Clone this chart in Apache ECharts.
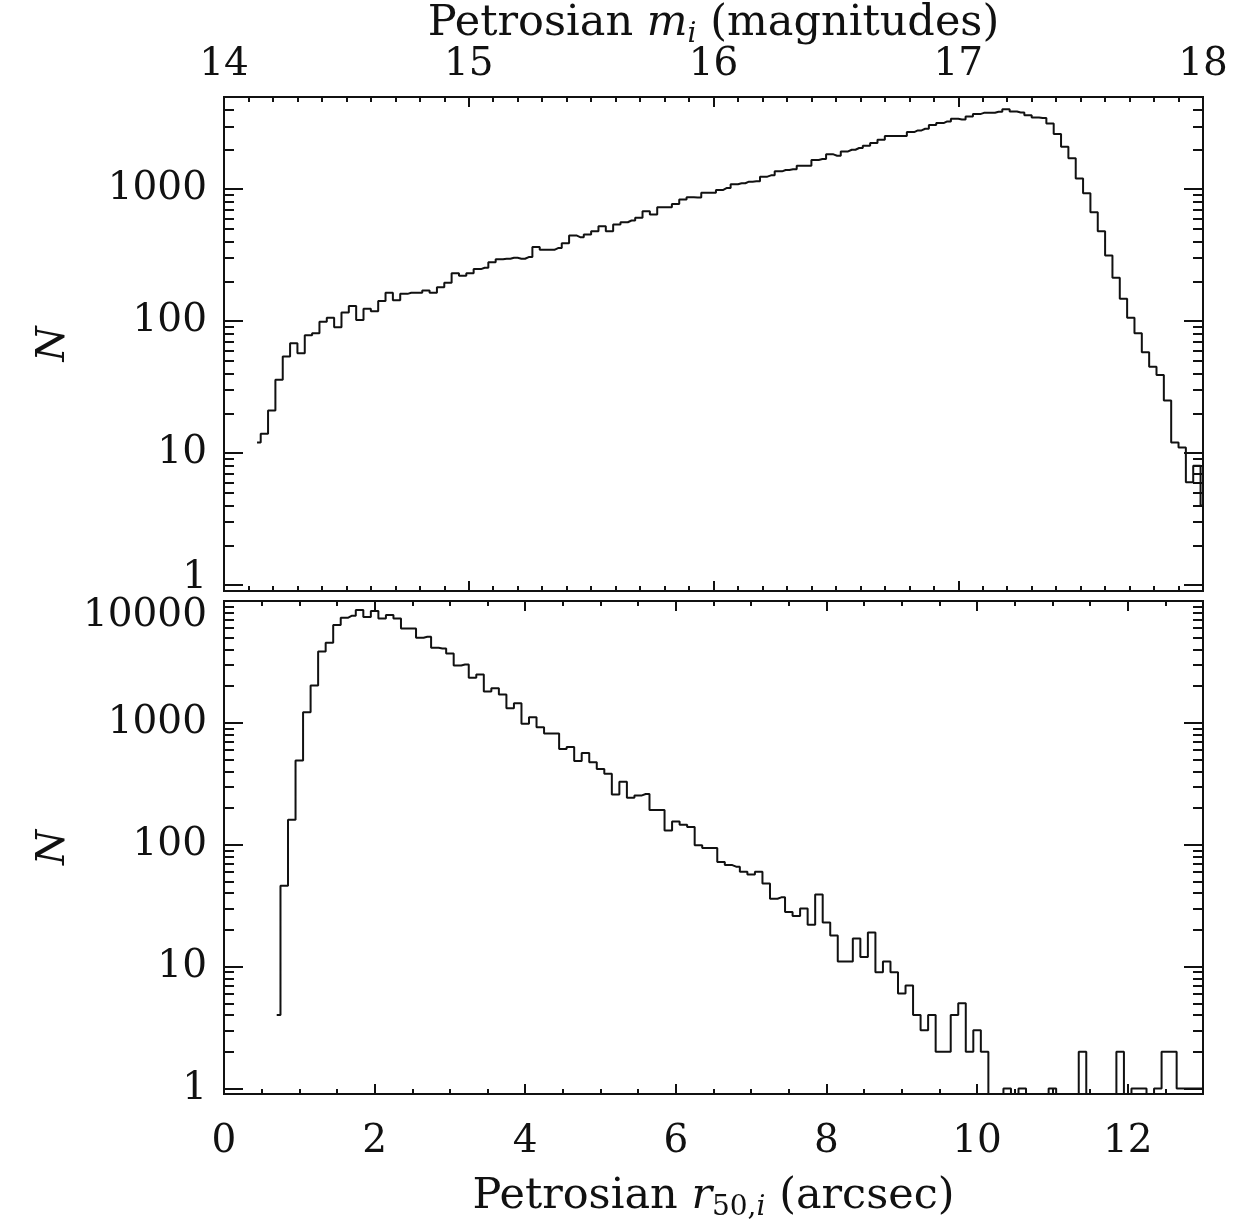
<!DOCTYPE html>
<html>
<head>
<meta charset="utf-8">
<script src="https://cdn.jsdelivr.net/npm/echarts@6/dist/echarts.min.js"></script>
<style>html,body{margin:0;padding:0;background:#fff}#chart{width:1233px;height:1226px}</style>
</head>
<body>
<div id="chart"></div>
<script>
// ---- Top panel: histogram of Petrosian m_i (bin centres start + k*width) ----
const magBinStart = 14.135;
const magBinWidth = 0.03;
const magCounts = [
  12, 14, 21, 36, 54, 68, 57, 78, 81, 99,
  106, 90, 116, 130, 102, 124, 119, 142, 164, 144,
  161, 164, 164, 171, 164, 181, 195, 231, 221, 231,
  248, 254, 280, 294, 297, 302, 297, 306, 364, 347,
  347, 358, 390, 446, 433, 454, 481, 524, 481, 540,
  562, 579, 607, 681, 643, 730, 730, 773, 834, 868,
  864, 942, 942, 988, 1023, 1090, 1109, 1141, 1148, 1245,
  1274, 1366, 1399, 1415, 1509, 1509, 1665, 1694, 1837, 1795,
  1935, 1992, 2052, 2137, 2240, 2373, 2531, 2531, 2531, 2712,
  2792, 2873, 3064, 3173, 3267, 3422, 3380, 3556, 3710, 3793,
  3793, 3862, 4045, 3881, 3817, 3642, 3500, 3460, 3148, 2618,
  2098, 1713, 1203, 931, 669, 481, 315, 213, 148, 106,
  81, 58, 45, 39, 25, 12, 11, 6, 8, 4
];

// ---- Bottom panel: histogram of Petrosian r50,i ----
const sizeBinStart = 0.7;
const sizeBinWidth = 0.1;
const sizeCounts = [
  4, 46, 160, 490, 1222, 2024, 3855, 4540, 6340, 7290,
  7570, 8420, 7380, 8260, 7190, 7660, 7190, 5960, 5960, 4990,
  5090, 4130, 4070, 3710, 2958, 3013, 2344, 2494, 1807, 1925,
  1709, 1318, 1449, 981, 1112, 920, 817, 817, 611, 635,
  487, 567, 475, 419, 383, 258, 329, 243, 254, 261,
  193, 193, 131, 155, 146, 140, 99, 94, 94, 72,
  68, 66, 60, 57, 60, 48, 36, 37, 28, 26,
  30, 22, 39, 23, 18, 11, 11, 17, 12, 19,
  9, 11, 9, 6, 7, 4, 3, 4, 2, 2,
  4, 5, 2, 3, 2, 0, 0, 1, 0, 1,
  0, 0, 0, 1, 0, 0, 0, 2, 0, 0,
  0, 0, 2, 0, 1, 1, 0, 1, 2, 2,
  1, 1, 1, 1
];

// ---- Tick labels ----
const magTickLabels = [14, 15, 16, 17, 18];
const sizeTickLabels = [0, 2, 4, 6, 8, 10, 12];
const countTicksTop = [1, 10, 100, 1000];
const countTicksBottom = [1, 10, 100, 1000, 10000];

// empty bins sit below the log axis floor and are clipped
const EMPTY_BIN_LEVEL = 0.5;

function histData(start, width, counts) {
  return counts.map((v, i) => [+(start + i * width).toFixed(4), v > 0 ? v : EMPTY_BIN_LEVEL]);
}
function minorLinear(min, max, step, majorStep) {
  const out = [];
  const n = Math.round((max - min) / step);
  for (let i = 1; i < n; i++) {
    const v = +(min + i * step).toFixed(4);
    if (Math.abs(v / majorStep - Math.round(v / majorStep)) > 1e-6) out.push(v);
  }
  return out;
}
function minorLog(maxV) {
  const out = [];
  for (let d = 1; d < maxV; d *= 10) {
    for (let m = 2; m <= 9; m++) { if (m * d < maxV) out.push(m * d); }
  }
  return out;
}

const FONT = 'DejaVu Serif';
const INK = '#111';
const lineStyle = { color: INK, width: 2 };

function xAxis(grid, pos, min, max, ticks, len, labels, extra) {
  return Object.assign({
    type: 'value', gridIndex: grid, position: pos, min: min, max: max,
    axisLine: { show: true, onZero: false, lineStyle: lineStyle },
    axisTick: { show: true, inside: true, length: len, customValues: ticks, lineStyle: lineStyle },
    axisLabel: labels ? {
      show: true, customValues: labels, margin: pos === 'top' ? 13 : 28,
      fontFamily: FONT, fontSize: 39, color: INK,
      formatter: v => String(v)
    } : { show: false, customValues: ticks },
    splitLine: { show: false }, minorTick: { show: false }
  }, extra || {});
}
function yAxis(grid, pos, max, ticks, len, labels, labelFmt, extra) {
  return Object.assign({
    type: 'log', logBase: 10, gridIndex: grid, position: pos, min: 0.9, max: max,
    axisLine: { show: true, onZero: false, lineStyle: lineStyle },
    axisTick: { show: true, inside: true, length: len, customValues: ticks, lineStyle: lineStyle },
    axisLabel: labels ? {
      show: true, customValues: labels, margin: 17,
      fontFamily: FONT, fontSize: 39, color: INK,
      formatter: labelFmt,
      rich: {
        lo: { fontFamily: FONT, fontSize: 39, color: INK, padding: [0, 0, 14, 0] },
        hi: { fontFamily: FONT, fontSize: 39, color: INK, padding: [30, 0, 0, 0] }
      }
    } : { show: false, customValues: ticks },
    splitLine: { show: false }, minorTick: { show: false }
  }, extra || {});
}

const magMajor = magTickLabels;
const magMinor = minorLinear(14, 18, 0.1, 1);
const sizeMajor = sizeTickLabels;
const sizeMinor = minorLinear(0, 13, 0.5, 2);
const topMinorY = minorLog(5000);
const botMinorY = minorLog(10000);

const titleRich = {
  t: { fontFamily: FONT, fontSize: 43, color: INK },
  it: { fontFamily: FONT, fontSize: 43, fontStyle: 'italic', color: INK },
  sub: { fontFamily: FONT, fontSize: 28, color: INK, padding: [22, 0, 0, 0] },
  subit: { fontFamily: FONT, fontSize: 28, fontStyle: 'italic', color: INK, padding: [22, 0, 0, 0] }
};
const nRich = { n: { fontFamily: FONT, fontSize: 40, fontStyle: 'italic', color: INK } };

const topFmt = v => { const s = String(Math.round(v)); return Math.round(v) === 1 ? '{lo|' + s + '}' : s; };
const botFmt = v => { const s = String(Math.round(v)); return Math.round(v) === 10000 ? '{hi|' + s + '}' : s; };

const option = {
  animation: false,
  backgroundColor: '#fff',
  grid: [
    { left: 224, top: 97, width: 979, height: 494, containLabel: false, outerBoundsMode: 'none' },
    { left: 224, top: 601, width: 979, height: 493, containLabel: false, outerBoundsMode: 'none' }
  ],
  xAxis: [
    xAxis(0, 'top', 14, 18, magMajor, 10, magTickLabels, {
      name: '{t|Petrosian }{it|m}{subit|i}{t| (magnitudes)}',
      nameLocation: 'middle', nameGap: 48, nameMoveOverlap: false,
      nameTextStyle: { rich: titleRich }
    }),
    xAxis(0, 'top', 14, 18, magMinor, 5, null),
    xAxis(0, 'bottom', 14, 18, magMajor, 10, null),
    xAxis(0, 'bottom', 14, 18, magMinor, 5, null),
    xAxis(1, 'bottom', 0, 13, sizeMajor, 10, sizeTickLabels, {
      name: '{t|Petrosian }{it|r}{sub|50,}{subit|i}{t| (arcsec)}',
      nameLocation: 'middle', nameGap: 78, nameMoveOverlap: false,
      nameTextStyle: { rich: titleRich }
    }),
    xAxis(1, 'bottom', 0, 13, sizeMinor, 5, null),
    xAxis(1, 'top', 0, 13, sizeMajor, 10, null),
    xAxis(1, 'top', 0, 13, sizeMinor, 5, null)
  ],
  yAxis: [
    yAxis(0, 'left', 5000, countTicksTop, 19, countTicksTop, topFmt, {
      name: '{n|N}', nameLocation: 'middle', nameRotate: 90, nameGap: 150,
      nameMoveOverlap: false, nameTextStyle: { rich: nRich }
    }),
    yAxis(0, 'left', 5000, topMinorY, 10, null),
    yAxis(0, 'right', 5000, countTicksTop, 19, null),
    yAxis(0, 'right', 5000, topMinorY, 10, null),
    yAxis(1, 'left', 10000, countTicksBottom, 19, countTicksBottom, botFmt, {
      name: '{n|N}', nameLocation: 'middle', nameRotate: 90, nameGap: 150,
      nameMoveOverlap: false, nameTextStyle: { rich: nRich }
    }),
    yAxis(1, 'left', 10000, botMinorY, 10, null),
    yAxis(1, 'right', 10000, countTicksBottom, 19, null),
    yAxis(1, 'right', 10000, botMinorY, 10, null)
  ],
  series: [
    {
      type: 'line', xAxisIndex: 0, yAxisIndex: 0, step: 'middle',
      showSymbol: false, clip: true, silent: true,
      lineStyle: { color: INK, width: 2 },
      data: histData(magBinStart, magBinWidth, magCounts)
    },
    {
      type: 'line', xAxisIndex: 4, yAxisIndex: 4, step: 'middle',
      showSymbol: false, clip: true, silent: true,
      lineStyle: { color: INK, width: 2 },
      data: histData(sizeBinStart, sizeBinWidth, sizeCounts)
    }
  ]
};

const chart = echarts.init(document.getElementById('chart'), null, { renderer: 'canvas' });
chart.setOption(option);
</script>
</body>
</html>
